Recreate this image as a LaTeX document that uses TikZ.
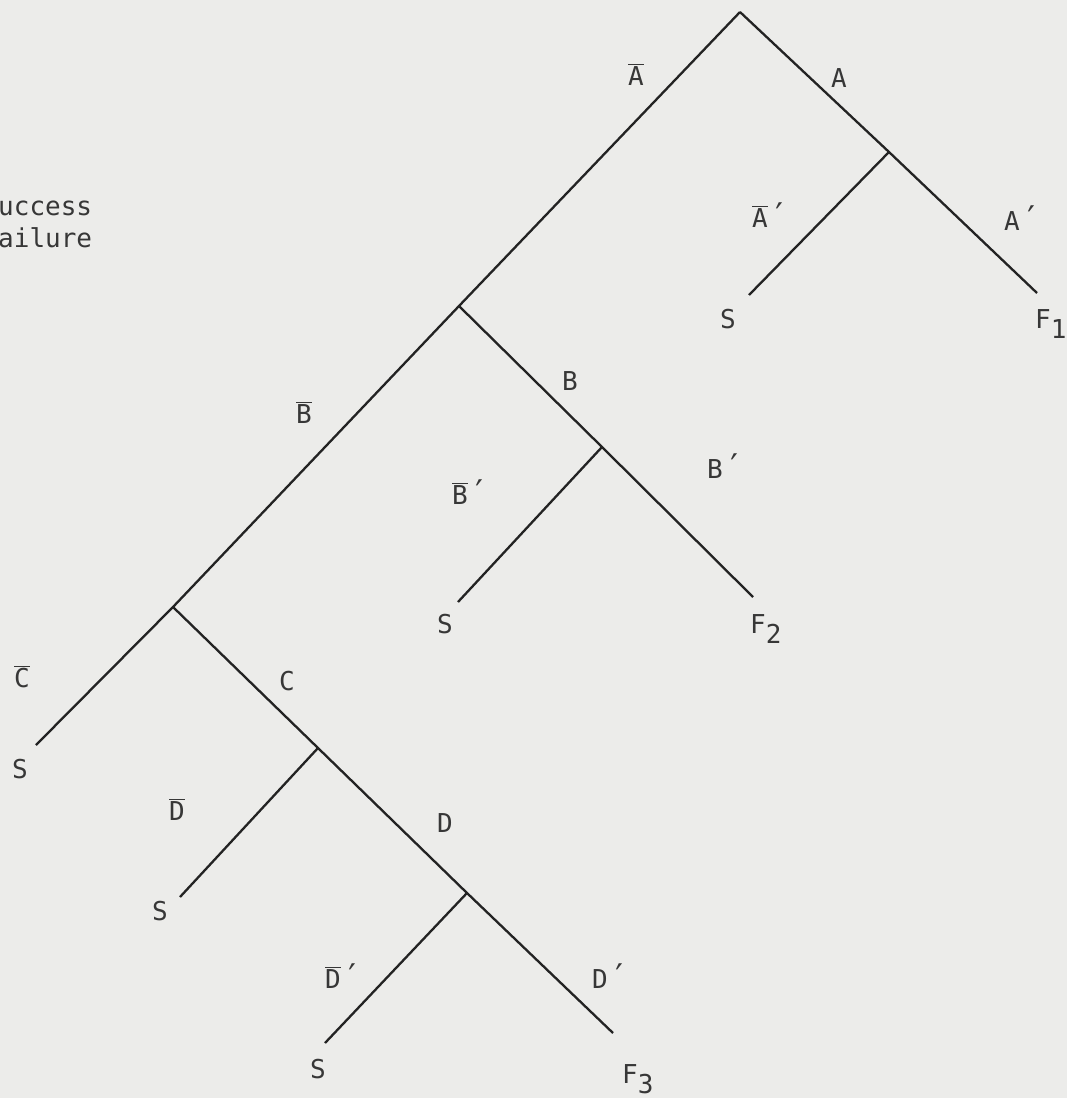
\documentclass[tikz,border=0pt]{standalone}
\usepackage{fontspec}
\setmainfont{DejaVu Sans Mono}
\definecolor{bgc}{RGB}{236,236,234}
\definecolor{ink}{RGB}{55,55,55}
\definecolor{linec}{RGB}{35,35,35}
\newcommand{\ob}[1]{$\overline{\hbox{#1}}$}
\newcommand{\pr}{\kern1pt{\fontsize{34}{34}\selectfont ′}}
\begin{document}
\begin{tikzpicture}[x=1pt,y=-1pt,
  branch/.style={draw=linec,line width=2.3pt},
  lbl/.style={font=\fontsize{26}{30}\selectfont,text=ink,inner sep=0pt,anchor=base},
  lblw/.style={lbl,anchor=base west}]
\fill[bgc] (0,0) rectangle (1067,1098);
\useasboundingbox (0,0) rectangle (1067,1098);
% junctions
\coordinate (top) at (740,12);
\coordinate (nA) at (889,152);
\coordinate (nB) at (459,306);
\coordinate (nBp) at (602,447);
\coordinate (nC) at (173,607);
\coordinate (nCs) at (318,748);
\coordinate (nD) at (467,893);
% leaves
\coordinate (sA) at (749,295);
\coordinate (f1) at (1037,293);
\coordinate (sB) at (458,602);
\coordinate (f2) at (753,597);
\coordinate (sC) at (36,745);
\coordinate (sCs) at (180,897);
\coordinate (sD) at (325,1043);
\coordinate (f3) at (613,1033);
% branches
\draw[branch] (top) -- (nA) -- (f1);
\draw[branch] (nA) -- (sA);
\draw[branch] (top) -- (nB) -- (nC) -- (sC);
\draw[branch] (nB) -- (nBp) -- (f2);
\draw[branch] (nBp) -- (sB);
\draw[branch] (nC) -- (nCs) -- (nD) -- (f3);
\draw[branch] (nCs) -- (sCs);
\draw[branch] (nD) -- (sD);
% legend
\node[lblw] (succ) at (-2,215) {uccess};
\node[lblw] (fail) at (-2,247) {ailure};
% labels
\node[lbl] (lAb) at (636,85) {\ob{A}};
\node[lbl] (lA) at (839,87) {A};
\node[lblw] (lApb) at (752,227) {\ob{A}\pr};
\node[lblw] (lAp) at (1004,230) {A\pr};
\node[lbl] (lSA) at (728,328) {S};
\node[lblw] (lF1) at (1035,328) {F\raisebox{-10pt}{1}};
\node[lbl] (lB) at (570,390) {B};
\node[lbl] (lBb) at (304,423) {\ob{B}};
\node[lblw] (lBpb) at (452,504) {\ob{B}\pr};
\node[lblw] (lBp) at (707,478) {B\pr};
\node[lbl] (lSB) at (445,633) {S};
\node[lblw] (lF2) at (750,633) {F\raisebox{-10pt}{2}};
\node[lbl] (lCb) at (22,687) {\ob{C}};
\node[lbl] (lC) at (287,690) {C};
\node[lbl] (lSC) at (20,778) {S};
\node[lbl] (lDb) at (177,820) {\ob{D}};
\node[lbl] (lD) at (445,832) {D};
\node[lbl] (lSCs) at (160,920) {S};
\node[lblw] (lDpb) at (325,988) {\ob{D}\pr};
\node[lblw] (lDp) at (592,988) {D\pr};
\node[lbl] (lSD) at (318,1078) {S};
\node[lblw] (lF3) at (622,1083) {F\raisebox{-10pt}{3}};
\end{tikzpicture}
\end{document}
